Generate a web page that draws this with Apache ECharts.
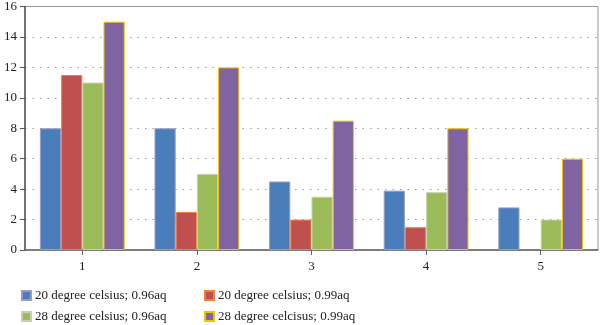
<!DOCTYPE html>
<html>
<head>
<meta charset="utf-8">
<script src="https://cdn.jsdelivr.net/npm/echarts@6/dist/echarts.min.js"></script>
<style>
html, body { margin: 0; padding: 0; background: #fff; }
#chart { width: 600px; height: 325px; }
</style>
</head>
<body>
<div id="chart"></div>
<script>
// Categories and series values
const categories = ['1', '2', '3', '4', '5'];
const seriesNames = [
  '20 degree celsius; 0.96aq',
  '20 degree celsius; 0.99aq',
  '28 degree celsius; 0.96aq',
  '28 degree celcisus; 0.99aq'
];
const s20_096 = [8, 8, 4.5, 3.9, 2.8];
const s20_099 = [11.5, 2.5, 2, 1.5, 0];
const s28_096 = [11, 5, 3.5, 3.8, 2];
const s28_099 = [15, 12, 8.5, 8, 6];
const yTicks = { min: 0, max: 16, interval: 2 };

const fills = ['#4a7ebb', '#c0504d', '#9bbb59', '#8064a2'];
const borders = ['#9b9bc8', '#f08040', '#c8d0b0', '#f2c200'];
const valueSets = [s20_096, s20_099, s28_096, s28_099];
const font = '"Liberation Serif", "DejaVu Serif", serif';

// zero-height bars get no outline so nothing shows on the baseline
const series = valueSets.map((vals, i) => ({
  name: seriesNames[i],
  type: 'bar',
  data: vals.map(v => v === 0 ? { value: v, itemStyle: { borderWidth: 0 } } : v),
  barGap: '0%',
  barCategoryGap: '26%',
  itemStyle: { color: fills[i], borderColor: borders[i], borderWidth: 1 }
}));

// Legend laid out in two columns, two rows
const legendPos = [
  { left: 21, top: 289 },
  { left: 204, top: 289 },
  { left: 21, top: 310 },
  { left: 204, top: 310 }
];
const legends = seriesNames.map((n, i) => ({
  data: [n],
  left: legendPos[i].left,
  top: legendPos[i].top,
  padding: 0,
  icon: 'rect',
  itemWidth: 9,
  itemHeight: 9,
  itemGap: 4,
  textStyle: { fontFamily: font, fontSize: 13, color: '#222', padding: [0, 0, 0, -1] }
}));

const chart = echarts.init(document.getElementById('chart'), null, { renderer: 'canvas' });
chart.setOption({
  animation: false,
  backgroundColor: '#fff',
  legend: legends,
  grid: {
    left: 25, right: 2, top: 6, bottom: 75,
    show: true, borderColor: '#999', borderWidth: 1, backgroundColor: 'transparent'
  },
  xAxis: {
    type: 'category',
    data: categories,
    axisLine: { lineStyle: { color: '#666', width: 1.5 } },
    axisTick: { show: true, alignWithLabel: true, interval: 0, length: 5, lineStyle: { color: '#666' } },
    axisLabel: { fontFamily: font, fontSize: 13, color: '#222', margin: 10 }
  },
  yAxis: {
    type: 'value',
    min: yTicks.min, max: yTicks.max, interval: yTicks.interval,
    axisLine: { show: true, lineStyle: { color: '#555', width: 1.5 } },
    axisTick: { show: true, length: 5, inside: false, lineStyle: { color: '#555' } },
    axisLabel: { fontFamily: font, fontSize: 13, color: '#222', margin: 8 },
    splitLine: { show: true, lineStyle: { color: '#999', type: [1.5, 6], width: 1 } }
  },
  series: series
});
</script>
</body>
</html>
